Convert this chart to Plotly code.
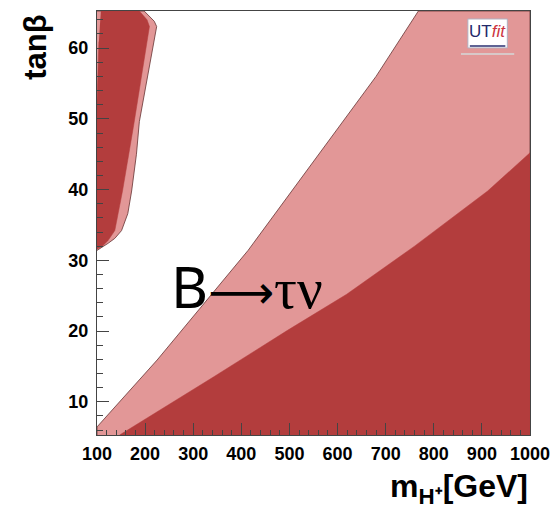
import plotly.graph_objects as go

# Axis limits
M_MIN, M_MAX = 100, 1000
TB_MIN, TB_MAX = 5.3, 65.25

# Upper edge of the wide allowed band (light)
band_m = [100, 225, 276, 414, 680, 768]
band_tb = [6.44, 15.9, 20.1, 31.4, 56.0, 65.25]

# Upper edge of the inner allowed band (dark)
core_m = [147, 342, 496, 619, 760, 912, 1000]
core_tb = [5.3, 13.5, 20.1, 25.2, 32.0, 39.8, 45.2]

# High tanβ island: outer contour (light)
isl_out_m = [100, 198, 219, 224, 188, 182, 172, 164, 151, 137, 123, 100]
isl_out_tb = [65.25, 65.25, 63.8, 63.05, 49.6, 45.0, 39.8, 36.6, 34.2, 33.1, 32.4, 31.4]

# High tanβ island: inner contour (dark)
isl_in_m = [108, 188, 204, 209, 176, 153, 137, 123, 110, 100, 100, 104]
isl_in_tb = [65.25, 65.25, 64.0, 63.05, 49.0, 39.8, 34.2, 32.8, 31.9, 31.6, 52.5, 60.9]

LIGHT = "#e29797"
DARK = "#b33d3d"
EDGE = "rgba(110,60,60,0.85)"

fig = go.Figure()

fig.add_trace(go.Scatter(
    x=[M_MIN] + band_m + [M_MAX, M_MAX],
    y=[TB_MIN] + band_tb + [TB_MAX, TB_MIN],
    fill="toself", fillcolor=LIGHT, mode="lines",
    line=dict(color=EDGE, width=1), hoverinfo="skip"))

fig.add_trace(go.Scatter(
    x=core_m + [M_MAX],
    y=core_tb + [TB_MIN],
    fill="toself", fillcolor=DARK, mode="lines",
    line=dict(color=DARK, width=0.5), hoverinfo="skip"))

fig.add_trace(go.Scatter(
    x=isl_out_m, y=isl_out_tb,
    fill="toself", fillcolor=LIGHT, mode="lines",
    line=dict(color=EDGE, width=1), hoverinfo="skip"))

fig.add_trace(go.Scatter(
    x=isl_in_m, y=isl_in_tb,
    fill="toself", fillcolor=DARK, mode="lines",
    line=dict(color=DARK, width=0.5), hoverinfo="skip"))

W, H = 560, 511
ML, MR, MT, MB = 97, 24, 10, 76
PW, PH = W - ML - MR, H - MT - MB


def px(xp, yp):
    """Pixel position on the page -> paper coordinates."""
    return (xp - ML) / PW, (H - MB - yp) / PH


tickfont = dict(family="Liberation Sans, Arial, sans-serif", size=18,
                color="black", weight="bold")

fig.update_xaxes(
    range=[M_MIN, M_MAX], tickvals=list(range(100, 1001, 100)),
    ticks="inside", ticklen=12, tickwidth=1, tickcolor="#444",
    minor=dict(ticks="inside", ticklen=5, dtick=20, tickcolor="#444"),
    showline=True, linecolor="#444", linewidth=1, mirror=True,
    showgrid=False, zeroline=False, tickfont=tickfont,
    ticklabelstandoff=2)
fig.update_yaxes(
    range=[TB_MIN, TB_MAX], tickvals=[10, 20, 30, 40, 50, 60],
    ticks="inside", ticklen=12, tickwidth=1, tickcolor="#444",
    minor=dict(ticks="inside", ticklen=6, dtick=2, tick0=0, tickcolor="#444"),
    showline=True, linecolor="#444", linewidth=1, mirror=True,
    showgrid=False, zeroline=False, tickfont=tickfont,
    ticklabelstandoff=4)

ann = []
# y title
x0, y0 = px(35, 46)
ann.append(dict(x=x0, y=y0, xref="paper", yref="paper", text="tanβ",
                textangle=-90, showarrow=False, xanchor="center", yanchor="middle",
                font=dict(family="Liberation Sans, Arial", size=31, color="black",
                          weight="bold")))
# x title
x0, y0 = px(536, 489)
ann.append(dict(x=x0, y=y0, xref="paper", yref="paper",
                text="m<sub>H⁺</sub>[GeV]",
                showarrow=False, xanchor="right", yanchor="middle",
                font=dict(family="Liberation Sans, Arial", size=32, color="black",
                          weight="bold")))
# process label
x0, y0 = px(249, 286)
ann.append(dict(x=x0, y=y0, xref="paper", yref="paper",
                text=("<span style='font-family:Noto Sans'>B</span>"
                      "<span style='font-family:DejaVu Sans;font-size:46px'>⟶</span>"
                      "<span style='font-family:Liberation Serif'>τν</span>"),
                showarrow=False, xanchor="center", yanchor="middle",
                font=dict(family="Noto Sans", size=57, color="black")))

# logo box, its underline and drop shadow
shapes = []
bx0, by0 = px(473, 47)
bx1, by1 = px(513, 18)
sx0, sy0 = px(466, 53)
sx1, _ = px(520, 53)
shapes.append(dict(type="line", xref="paper", yref="paper",
                   x0=sx0, x1=sx1, y0=sy0, y1=sy0,
                   line=dict(color="#d8c8c8", width=2)))
shapes.append(dict(type="rect", xref="paper", yref="paper",
                   x0=bx0, x1=bx1, y0=by0, y1=by1,
                   fillcolor="white", line=dict(color="#b0b0c0", width=1)))
ux0, uy0 = px(475, 45)
ux1, _ = px(511, 45)
shapes.append(dict(type="line", xref="paper", yref="paper",
                   x0=ux0, x1=ux1, y0=uy0, y1=uy0,
                   line=dict(color="#2a2f70", width=1.5)))

x0, y0 = px(493, 31)
ann.append(dict(x=x0, y=y0, xref="paper", yref="paper",
                text=("<span style='color:#23296a'>UT</span>"
                      "<span style='color:#cc3340'><i>fit</i></span>"),
                showarrow=False, xanchor="center", yanchor="middle",
                font=dict(family="Liberation Sans, Arial", size=17)))

fig.update_layout(
    width=W, height=H, autosize=False,
    margin=dict(l=ML, r=MR, t=MT, b=MB),
    plot_bgcolor="white", paper_bgcolor="white",
    showlegend=False, annotations=ann, shapes=shapes)

fig.write_html("out.html")
